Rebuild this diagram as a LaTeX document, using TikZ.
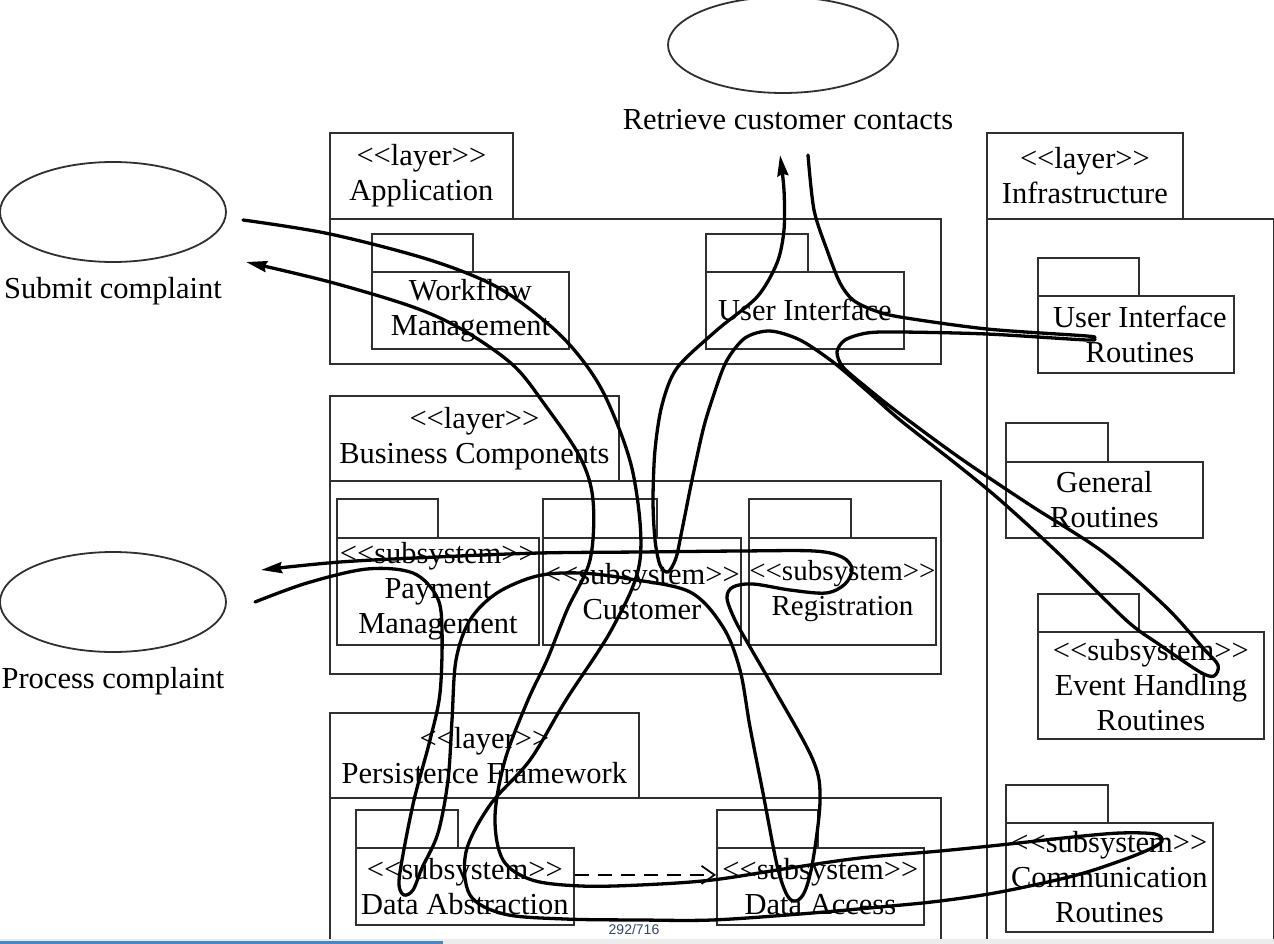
\documentclass[tikz,border=0pt]{standalone}
\usepackage{fontspec}
\setmainfont{Liberation Serif}
\newfontfamily\pagenumfont{Liberation Sans}
\usetikzlibrary{arrows.meta,shapes.geometric}
\definecolor{boxc}{HTML}{303030}
\definecolor{pgc}{HTML}{34466A}
\definecolor{barc}{HTML}{4A86C5}
\begin{document}
\begin{tikzpicture}[x=1pt,y=-1pt,
  box/.style={draw=boxc, line width=1.8pt, rectangle, inner sep=0pt, align=center,
    font=\fontsize{30.5}{35}\selectfont, anchor=north west},
  uc/.style={draw=boxc, line width=1.8pt, ellipse, inner sep=0pt},
  lbl/.style={font=\fontsize{30.5}{35}\selectfont, inner sep=0pt, anchor=base},
  flow/.style={line width=3.3pt, line cap=round, line join=round},
  flowarrow/.style={flow, -{Stealth[length=21pt,width=11pt,inset=2pt]}},
  dep/.style={line width=1.7pt, dash pattern=on 14pt off 9pt, -{Straight Barb[length=13pt,width=18pt]}}
]
\useasboundingbox (0,0) rectangle (1274,944);
\fill[white] (0,0) rectangle (1274,944);

% use cases
\node[uc, minimum width=230, minimum height=96] (ucR) at (783,45) {};
\node[lbl] (ucRl) at (788,130) {Retrieve customer contacts};
\node[uc, minimum width=226, minimum height=100] (ucS) at (113,212) {};
\node[lbl] (ucSl) at (113,298) {Submit complaint};
\node[uc, minimum width=226, minimum height=100] (ucP) at (113,602) {};
\node[lbl] (ucPl) at (113,688) {Process complaint};

% Application layer
\node[box, minimum width=183, minimum height=86] (apptab) at (329,132) {<{}<layer>{}>\\Application};
\node[box, minimum width=611, minimum height=145] (app) at (329,218) {};
\node[box, minimum width=101, minimum height=38] (wfmtab) at (371,233) {};
\node[box, minimum width=197, minimum height=77] (wfm) at (371,271) {Workflow\\Management};
\node[box, minimum width=102, minimum height=38] (uitab) at (705,233) {};
\node[box, minimum width=198, minimum height=77] (ui) at (705,271) {User Interface};

% Business Components layer
\node[box, minimum width=289, minimum height=85] (bctab) at (329,395) {<{}<layer>{}>\\Business Components};
\node[box, minimum width=611, minimum height=193] (bc) at (329,480) {};
\node[box, minimum width=101, minimum height=39] (paytab) at (336,498) {};
\node[box, minimum width=202, minimum height=107] (pay) at (336,537) {<{}<subsystem>{}>\\Payment\\Management};
\node[box, minimum width=114, minimum height=39] (custtab) at (542,498) {};
\node[box, minimum width=198, minimum height=107] (cust) at (542,537) {<{}<subsystem>{}>\\Customer};
\node[box, minimum width=102, minimum height=39] (regtab) at (748,498) {};
\node[box, minimum width=187, minimum height=107, font=\fontsize{29}{35}\selectfont] (reg) at (748,537) {<{}<subsystem>{}>\\Registration};

% Persistence Framework layer
\node[box, minimum width=309, minimum height=85] (pftab) at (329,712) {<{}<layer>{}>\\Persistence Framework};
\node[box, minimum width=611, minimum height=170] (pf) at (329,797) {};
\node[box, minimum width=102, minimum height=38] (datab) at (355,809) {};
\node[box, minimum width=218, minimum height=77] (da) at (355,847) {<{}<subsystem>{}>\\Data Abstraction};
\node[box, minimum width=101, minimum height=38] (dactab) at (716,809) {};
\node[box, minimum width=207, minimum height=77] (dac) at (716,847) {<{}<subsystem>{}>\\Data Access};

% Infrastructure layer
\node[box, minimum width=196, minimum height=86] (inftab) at (986,132) {<{}<layer>{}>\\Infrastructure};
\node[box, minimum width=287, minimum height=750] (inf) at (986,218) {};
\node[box, minimum width=101, minimum height=38] (uirtab) at (1037,257) {};
\node[box, minimum width=196, minimum height=77] (uir) at (1037,295) {\hspace*{8pt}User Interface\\\hspace*{8pt}Routines};
\node[box, minimum width=102, minimum height=39] (grtab) at (1005,422) {};
\node[box, minimum width=197, minimum height=76] (gr) at (1005,461) {General\\Routines};
\node[box, minimum width=101, minimum height=38] (ehtab) at (1037,593) {};
\node[box, minimum width=226, minimum height=107] (eh) at (1037,631) {<{}<subsystem>{}>\\Event Handling\\Routines};
\node[box, minimum width=102, minimum height=38] (crtab) at (1005,784) {};
\node[box, minimum width=207, minimum height=109] (cr) at (1005,822) {<{}<subsystem>{}>\\Communication\\Routines};

% dependency
\draw[dep] ([yshift=11.5pt]da.east) -- ([yshift=11.5pt]dac.west);

% scenario end points
\coordinate (sA) at (243,220);
\coordinate (eA) at (246,262);
\coordinate (sB) at (808,155);
\coordinate (eB) at (780,155);
\coordinate (sC) at (255,602);
\coordinate (eC) at (261,570);

% Submit complaint
\draw[flowarrow] plot[smooth, tension=0.55] coordinates {(sA) (330,234) (430,260) (497,287) (547,323) (580,357) (607,400) (633,473) (640,560) (613,627) (566,700) (530,760) (490,805) (466,852) (470,895) (504,914) (565,919) (640,920) (712,920) (800,914) (880,907) (940,901) (1000,892) (1073,876) (1120,861) (1150,849) (1162,841) (1155,834) (1120,833) (1073,837) (1000,845) (940,851) (860,858) (790,868) (712,880) (640,885) (581,886) (532,880) (503,860) (495,817) (505,760) (528,700) (547,660) (567,610) (590,560) (593,500) (580,457) (545,405) (513,365) (463,330) (413,307) (330,282) (eA)};

% Process complaint
\draw[flowarrow] plot[smooth, tension=0.55] coordinates {(sC) (307,583) (367,569) (413,573) (437,597) (442,630) (440,693) (430,740) (414,800) (402,860) (399,885) (404,895) (413,890) (422,868) (438,833) (448,780) (452,720) (456,660) (470,620) (497,593) (537,576) (580,573) (630,579) (690,592) (723,627) (740,670) (750,727) (763,793) (777,865) (787,895) (796,901) (805,891) (813,860) (820,800) (813,760) (773,687) (750,647) (735,620) (727,598) (733,587) (753,584) (790,590) (826,593) (845,584) (852,569) (842,557) (814,551) (740,551) (640,552) (540,553) (437,557) (340,562) (eC)};

% Retrieve customer contacts
\draw[flowarrow] plot[smooth, tension=0.5] coordinates {(sB) (814,210) (827,250) (840,283) (853,300) (873,310) (900,317) (987,329) (1087,336) (1092,338) (1087,340) (987,334) (900,332) (867,333) (845,340) (837,352) (843,367) (866,387) (900,414) (960,458) (1030,505) (1103,552) (1166,607) (1203,648) (1218,665) (1214,676) (1200,672) (1160,645) (1126,620) (1057,552) (1000,500) (960,467) (900,420) (866,390) (833,362) (800,340) (770,331) (745,338) (726,362) (712,400) (703,430) (692,480) (682,530) (676,558) (668,572) (660,565) (655,540) (653,500) (655,450) (662,405) (677,368) (717,330) (757,297) (777,263) (784,230) (784,190) (eB)};

% page strip
\fill[gray!15] (0,939) rectangle (1274,944);
\fill[barc] (0,941) rectangle (443,944);
\node[font=\pagenumfont\fontsize{14}{14}\selectfont, text=pgc, inner sep=0pt] (pg) at (634,929) {292/716};
\end{tikzpicture}
\end{document}
